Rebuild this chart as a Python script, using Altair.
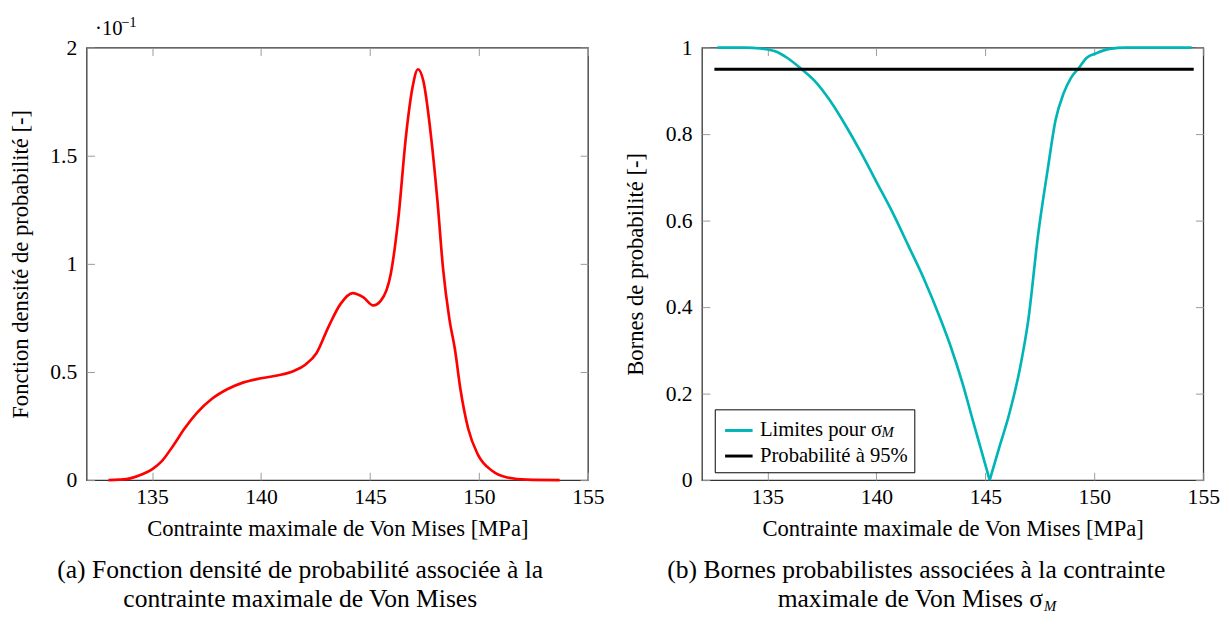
import altair as alt
import pandas as pd

FONT = "Liberation Serif"

# ---------------- data ----------------
x_ticks = [135, 140, 145, 150, 155]
pdf_ticks = [0, 0.5, 1, 1.5, 2]
prob_ticks = [0, 0.2, 0.4, 0.6, 0.8, 1]

# probability density (in units of 1e-1)
pdf_x = [133.0, 133.5, 134.0, 134.55, 135.0, 135.45, 136.0, 136.5, 137.05, 137.75,
         138.45, 139.2, 140.0, 140.8, 141.5, 142.05, 142.55, 143.1, 143.65, 144.2,
         144.7, 145.15, 145.5, 145.95, 146.3, 146.65, 146.95, 147.2, 147.45, 147.8,
         148.1, 148.35, 148.65, 148.9, 149.15, 149.5, 149.95, 150.6, 151.3, 152.2, 153.7]
pdf_y = [0.0, 0.002, 0.008, 0.027, 0.05, 0.088, 0.164, 0.24, 0.31, 0.376,
         0.42, 0.452, 0.471, 0.485, 0.505, 0.535, 0.588, 0.71, 0.815, 0.865,
         0.845, 0.808, 0.83, 0.952, 1.21, 1.59, 1.815, 1.90, 1.845, 1.59,
         1.285, 0.98, 0.74, 0.603, 0.42, 0.24, 0.118, 0.043, 0.012, 0.002, 0.0]

# probabilistic bounds, left and right branch of the V
lim_left_x = [132.7, 134.0, 134.67, 135.39, 135.92, 136.55, 137.17, 137.88, 138.59, 139.31,
              140.02, 140.73, 141.45, 142.16, 142.96, 143.41, 143.94, 144.47, 145.2]
lim_left_y = [1.0, 1.0, 0.998, 0.991, 0.976, 0.951, 0.923, 0.877, 0.82, 0.756,
              0.688, 0.62, 0.544, 0.468, 0.37, 0.309, 0.226, 0.13, 0.0]
lim_right_x = [145.2, 145.63, 146.08, 146.61, 146.97, 147.42, 147.86, 148.22, 148.58, 148.93,
               149.29, 149.64, 150.09, 150.71, 151.42, 154.46]
lim_right_y = [0.0, 0.074, 0.15, 0.264, 0.37, 0.567, 0.718, 0.832, 0.893, 0.93,
               0.953, 0.976, 0.987, 0.997, 1.0, 1.0]
p95_x = [132.57, 154.56]
p95_y = [0.95, 0.95]

series_names = ["Limites pour σ", "Probabilité à 95%"]
series_colors = ["#00b5b5", "#000000"]
x_title = "Contrainte maximale de Von Mises [MPa]"
pdf_title = "Fonction densité de probabilité [-]"
prob_title = "Bornes de probabilité [-]"
caption_a = ["(a) Fonction densité de probabilité associée à la", "contrainte maximale de Von Mises"]
caption_b = ["(b) Bornes probabilistes associées à la contrainte", "maximale de Von Mises σ"]
subscript = "M"
multiplier = ["·10", "−1"]

# ---------------- helpers ----------------
W, H = 510, 440
xscale = alt.Scale(domain=[132, 155], nice=False, zero=False)
TICK = "#9a9a9a"
FRAME = alt.ViewBackground(stroke="#333333", strokeWidth=1.3, fill="white")


def axis_main(orient, values, title, label_pad, title_pad):
    return alt.Axis(orient=orient, values=values, title=title, format="~g",
                    offset=-8, tickSize=8, tickColor=TICK, tickWidth=1, minExtent=0,
                    domain=False, grid=False, labelFlush=False, labelOverlap=False,
                    labelFont=FONT, labelFontSize=22, labelColor="black",
                    labelPadding=label_pad, titleFont=FONT, titleFontSize=23,
                    titleFontWeight="normal", titleColor="black", titlePadding=title_pad)


def axis_mirror(orient, values):
    return alt.Axis(orient=orient, values=values, title=None, labels=False,
                    offset=-8, tickSize=8, tickColor=TICK, tickWidth=1,
                    minExtent=0, maxExtent=0, domain=False, grid=False)


def text_layer(txt, x, y, size, align="center", style="normal"):
    return alt.Chart(pd.DataFrame({"t": [txt]})).mark_text(
        font=FONT, fontSize=size, align=align, baseline="alphabetic",
        fontStyle=style, color="black"
    ).encode(text="t:N", x=alt.value(x), y=alt.value(y))


# ---------------- left panel ----------------
df_pdf = pd.DataFrame({"x": pdf_x, "y": pdf_y})
yscale_l = alt.Scale(domain=[0, 2], nice=False, zero=True)

mirror_l = alt.Chart(df_pdf).mark_line(opacity=0).encode(
    x=alt.X("x:Q", scale=xscale, axis=axis_mirror("top", x_ticks)),
    y=alt.Y("y:Q", scale=yscale_l, axis=axis_mirror("right", pdf_ticks)),
)
line_l = alt.Chart(df_pdf).mark_line(color="#ff0000", strokeWidth=2.7, interpolate="monotone").encode(
    x=alt.X("x:Q", scale=xscale, axis=axis_main("bottom", x_ticks, x_title, 7, 10)),
    y=alt.Y("y:Q", scale=yscale_l, axis=axis_main("left", pdf_ticks, pdf_title, 10, 18)),
)

left = alt.layer(
    mirror_l, line_l,
    text_layer(multiplier[0], 8.6, -13, 21, align="left"),
    text_layer(multiplier[1], 35, -21, 15, align="left"),
    text_layer(caption_a[0], 217.3, 540, 26),
    text_layer(caption_a[1], 217.3, 569.5, 26),
).resolve_axis(x="independent", y="independent").properties(width=W, height=H, view=FRAME)

# ---------------- right panel ----------------
df_lim = pd.DataFrame({
    "x": lim_left_x + lim_right_x,
    "y": lim_left_y + lim_right_y,
    "branch": ["g"] * len(lim_left_x) + ["d"] * len(lim_right_x),
    "series": [series_names[0]] * (len(lim_left_x) + len(lim_right_x)),
})
df_p95 = pd.DataFrame({"x": p95_x, "y": p95_y, "series": [series_names[1]] * len(p95_x)})
yscale_r = alt.Scale(domain=[0, 1], nice=False, zero=True)
cscale = alt.Scale(domain=series_names, range=series_colors)
legend = alt.Legend(orient="none", legendX=13, legendY=368, title=None,
                    symbolType="stroke", symbolSize=784, symbolStrokeWidth=3,
                    symbolOffset=3,
                    labelFont=FONT, labelFontSize=21, labelColor="black",
                    labelOffset=6, padding=6, rowPadding=0,
                    strokeColor="black", labelLimit=400)

mirror_r = alt.Chart(df_lim).mark_line(opacity=0).encode(
    x=alt.X("x:Q", scale=xscale, axis=axis_mirror("top", x_ticks)),
    y=alt.Y("y:Q", scale=yscale_r, axis=axis_mirror("right", prob_ticks)),
)
line_lim = alt.Chart(df_lim).mark_line(strokeWidth=2.7, interpolate="monotone").encode(
    x=alt.X("x:Q", scale=xscale, axis=axis_main("bottom", x_ticks, x_title, 7, 10)),
    y=alt.Y("y:Q", scale=yscale_r, axis=axis_main("left", prob_ticks, prob_title, 10, 18)),
    color=alt.Color("series:N", scale=cscale, legend=legend),
    detail="branch:N",
)
line_p95 = alt.Chart(df_p95).mark_line(strokeWidth=3).encode(
    x=alt.X("x:Q", scale=xscale, axis=None),
    y=alt.Y("y:Q", scale=yscale_r, axis=None),
    color=alt.Color("series:N", scale=cscale, legend=legend),
)

right = alt.layer(
    mirror_r, line_lim, line_p95,
    text_layer(subscript, 182.5, 396, 15, align="left", style="italic"),
    text_layer(caption_b[0], 218, 540, 26),
    text_layer(caption_b[1], 347, 569.5, 26, align="right"),
    text_layer(subscript, 348, 573, 15, align="left", style="italic"),
).resolve_axis(x="independent", y="independent").properties(width=W, height=H, view=FRAME)

chart = alt.hconcat(left, right, spacing=18).resolve_scale(
    color="independent"
).resolve_legend(color="independent").properties(
    padding={"left": 0, "top": 1, "right": 0, "bottom": 0}
).configure_view(stroke="#333333", strokeWidth=1.3).configure(background="white")

chart.save("out.html", embed_options={"renderer": "svg", "actions": False})
